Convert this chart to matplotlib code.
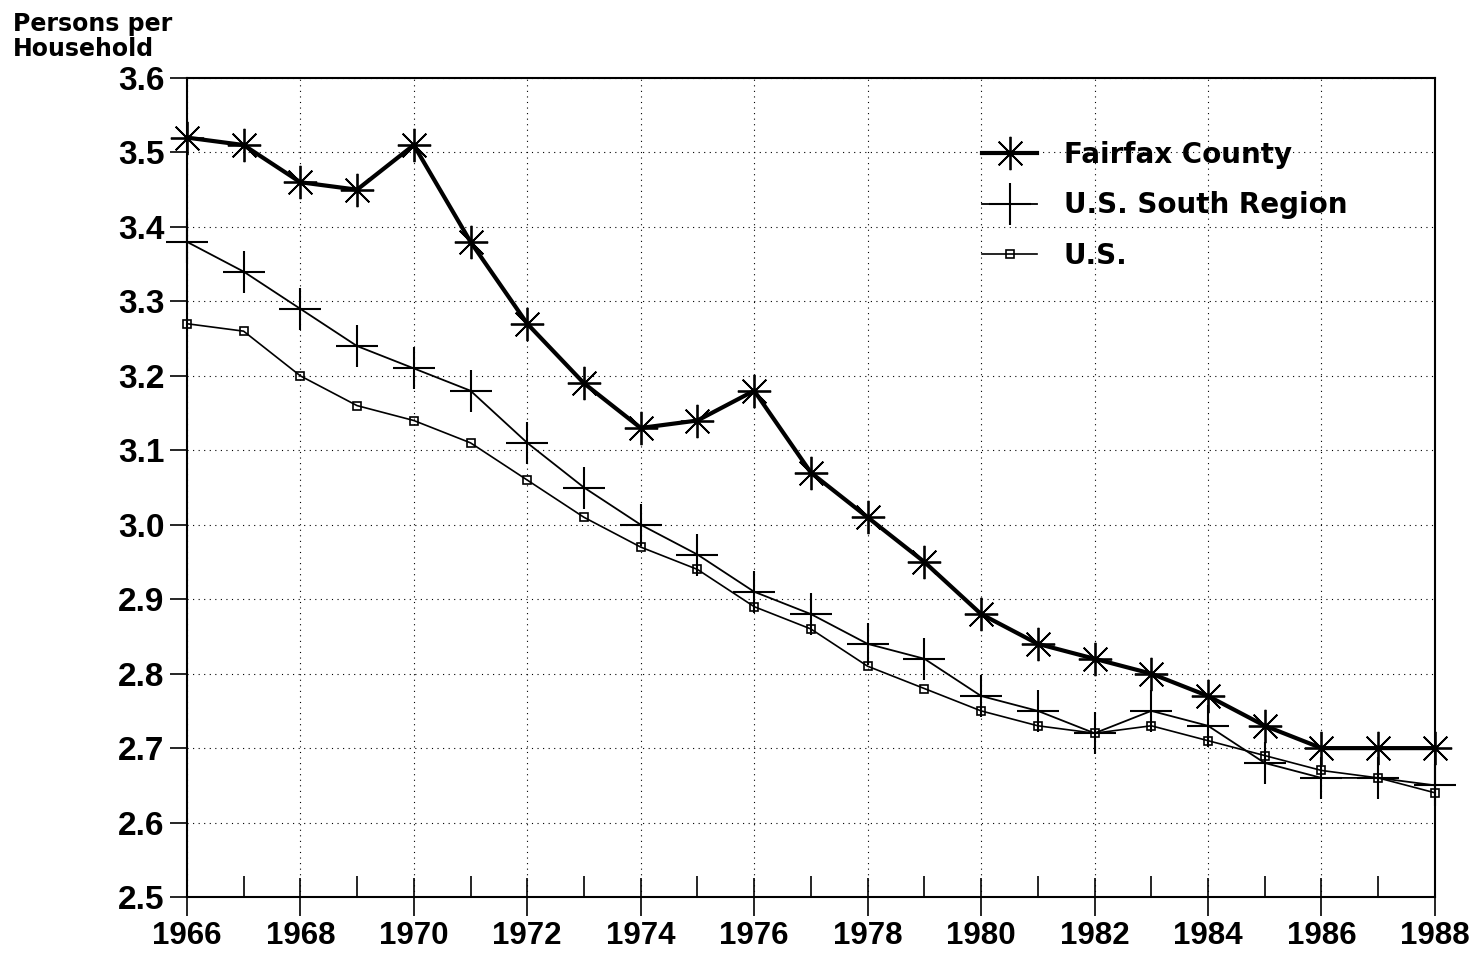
import matplotlib.pyplot as plt
from matplotlib.ticker import MultipleLocator, FormatStrFormatter

# persons per household, 1966-1988
years = [1966, 1967, 1968, 1969, 1970, 1971, 1972, 1973, 1974, 1975, 1976, 1977,
         1978, 1979, 1980, 1981, 1982, 1983, 1984, 1985, 1986, 1987, 1988]
fairfax = [3.52, 3.51, 3.46, 3.45, 3.51, 3.38, 3.27, 3.19, 3.13, 3.14, 3.18, 3.07,
           3.01, 2.95, 2.88, 2.84, 2.82, 2.80, 2.77, 2.73, 2.70, 2.70, 2.70]
south = [3.38, 3.34, 3.29, 3.24, 3.21, 3.18, 3.11, 3.05, 3.00, 2.96, 2.91, 2.88,
         2.84, 2.82, 2.77, 2.75, 2.72, 2.75, 2.73, 2.68, 2.66, 2.66, 2.65]
us = [3.27, 3.26, 3.20, 3.16, 3.14, 3.11, 3.06, 3.01, 2.97, 2.94, 2.89, 2.86,
      2.81, 2.78, 2.75, 2.73, 2.72, 2.73, 2.71, 2.69, 2.67, 2.66, 2.64]
series_names = ["Fairfax County", "U.S. South Region", "U.S."]

fig = plt.figure(figsize=(14.83, 9.63), dpi=100)
ax = fig.add_axes([0.126, 0.0685, 0.8416, 0.8505])

ax.plot(years, fairfax, color="black", lw=3, marker=(8, 2, 0), ms=24, mew=1.3,
        clip_on=False, label=series_names[0], zorder=4)
ax.plot(years, south, color="black", lw=1.3, marker="+", ms=30, mew=1.5,
        clip_on=False, label=series_names[1], zorder=3)
ax.plot(years, us, color="black", lw=1.2, marker="s", ms=6, mfc="none", mew=1.2,
        clip_on=False, label=series_names[2], zorder=3)

ax.set_xlim(1966, 1988)
ax.set_ylim(2.5, 3.6)
ax.xaxis.set_major_locator(MultipleLocator(2))
ax.xaxis.set_minor_locator(MultipleLocator(1))
ax.yaxis.set_major_locator(MultipleLocator(0.1))
ax.yaxis.set_major_formatter(FormatStrFormatter("%.1f"))

ax.grid(True, which="major", color="black", lw=0.8, linestyle=(0, (1, 4)))
ax.tick_params(axis="x", which="major", direction="inout", length=28, width=1.2, pad=3)
ax.tick_params(axis="x", which="minor", direction="in", length=15, width=1.2)
ax.tick_params(axis="y", direction="out", length=12, width=1.2, pad=4)
for s in ax.spines.values():
    s.set_linewidth(1.5)

for lbl in ax.get_xticklabels():
    lbl.set_fontfamily(["Liberation Sans Narrow", "Liberation Sans"])
    lbl.set_fontweight("bold")
    lbl.set_fontsize(22.5)
for lbl in ax.get_yticklabels():
    lbl.set_fontfamily("Liberation Sans")
    lbl.set_fontweight("bold")
    lbl.set_fontsize(24)

fig.text(0.009, 0.988, "Persons per\nHousehold", ha="left", va="top",
         family="DejaVu Sans", weight="bold", fontsize=17, linespacing=1.05)

ax.legend(loc="upper left", bbox_to_anchor=(0.637, 0.923), frameon=False,
          prop=dict(family="DejaVu Sans", weight="bold", size=20),
          handlelength=2.0, handletextpad=0.95, labelspacing=0.8,
          borderpad=0, borderaxespad=0)

fig.savefig("out.png", dpi=100)
